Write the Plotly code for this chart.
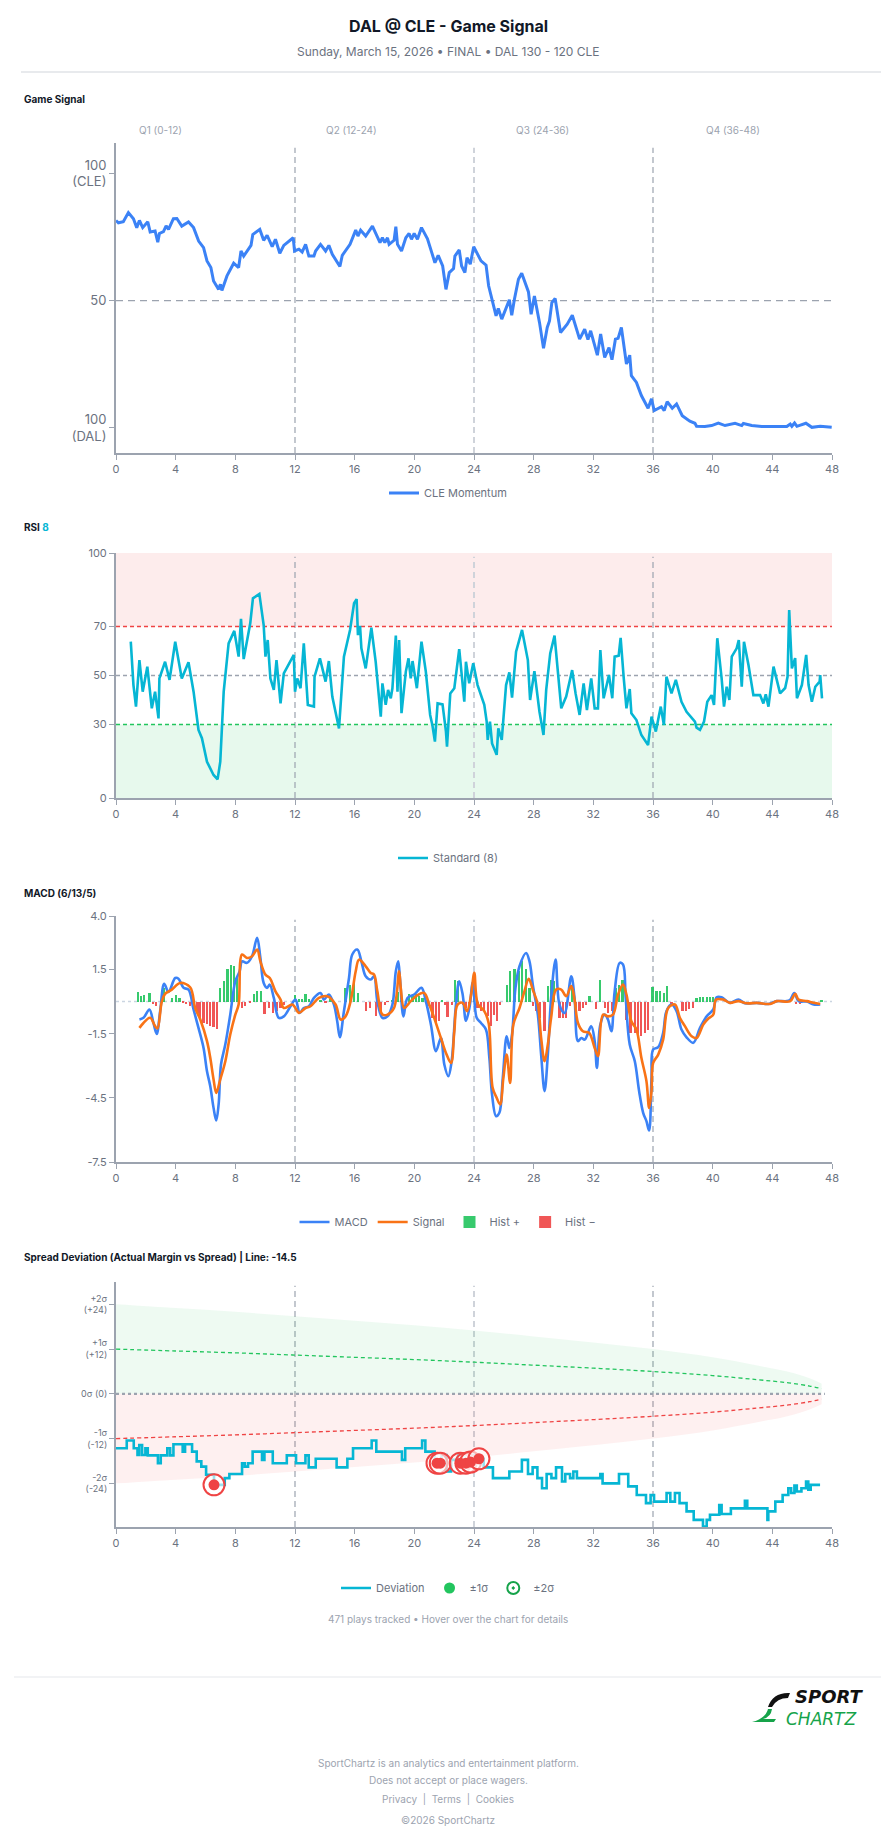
import plotly.graph_objects as go

W, H = 896, 1845

# ---------------- DATA ----------------
quarters = ["Q1 (0-12)", "Q2 (12-24)", "Q3 (24-36)", "Q4 (36-48)"]
x_ticks = [0, 4, 8, 12, 16, 20, 24, 28, 32, 36, 40, 44, 48]
quarter_lines = [12, 24, 36]

gs_time = [0, 0.16, 0.49, 0.83, 1.17, 1.39, 1.57, 1.79, 2.13, 2.29, 2.62, 2.8, 2.91, 3.18, 3.36, 3.52, 3.85, 4.08,
           4.41, 4.86, 5.2, 5.54, 5.87, 6.1, 6.36, 6.54, 6.88, 7.0, 7.1, 7.44, 7.89, 8.22, 8.38, 8.56, 9.05, 9.17,
           9.64, 9.9, 10.13, 10.47, 10.69, 10.98, 11.25, 11.88, 11.97, 12.26, 12.48, 12.71, 12.93, 13.27, 13.38,
           13.71, 14.05, 14.27, 14.5, 15.01, 15.17, 15.69, 16.07, 16.22, 16.4, 16.74, 17.19, 17.7, 17.86, 18.02,
           18.2, 18.31, 18.64, 18.76, 18.87, 19.14, 19.43, 19.65, 19.81, 19.99, 20.21, 20.48, 20.88, 21.11, 21.38,
           21.6, 21.9, 22.12, 22.34, 22.63, 22.72, 23.01, 23.17, 23.39, 23.53, 23.75, 23.98, 24.47, 24.81, 24.98,
           25.25, 25.48, 25.63, 25.86, 26.37, 26.53, 26.71, 26.98, 27.2, 27.65, 27.83, 28.05, 28.39, 28.66, 28.91,
           29.06, 29.22, 29.44, 29.8, 30.25, 30.59, 31.08, 31.42, 31.64, 31.82, 32.27, 32.49, 32.76, 33.05, 33.25,
           33.48, 33.66, 33.88, 34.22, 34.44, 34.55, 34.89, 35.22, 35.67, 35.9, 36.08, 36.57, 36.75, 36.95, 37.29,
           37.58, 37.96, 38.47, 38.81, 38.92, 39.48, 39.93, 40.38, 40.83, 41.5, 41.95, 42.06, 42.62, 43.29, 44.19,
           44.97, 45.2, 45.31, 45.49, 45.65, 46.25, 46.65, 47.21, 47.98]
gs_value = [81.5, 80.6, 81.0, 84.6, 82.2, 78.7, 81.5, 78.7, 81.0, 77.0, 77.4, 73.0, 76.4, 77.1, 79.4, 78.0, 82.2, 82.3,
            79.3, 80.9, 78.7, 73.4, 70.8, 65.6, 63.0, 57.7, 54.4, 56.4, 54.0, 59.7, 64.7, 63.0, 69.5, 67.5, 71.7, 76.0,
            78.0, 73.7, 75.7, 71.2, 74.1, 68.6, 71.7, 74.7, 69.5, 70.2, 69.1, 72.1, 67.5, 67.5, 69.5,
            72.1, 69.5, 71.7, 68.2, 63.4, 67.8, 72.1, 77.7, 75.4, 77.7, 75.4, 79.3, 72.8, 74.7, 72.8,
            74.7, 72.1, 73.7, 79.1, 72.1, 69.5, 74.7, 76.4, 74.1, 76.4, 74.1, 78.7, 74.3, 70.2, 64.9,
            67.8, 63.6, 54.4, 61.0, 62.6, 67.5, 69.9, 63.6, 61.0, 66.9, 64.3, 71.2, 65.6, 63.9, 55.8,
            49.2, 44.0, 46.9, 42.7, 50.3, 44.2, 50.5, 58.4, 60.7, 53.4, 44.6, 51.8, 41.4, 31.2, 39.4,
            42.0, 49.2, 50.8, 37.4, 40.7, 44.2, 34.8, 38.7, 34.6, 38.1, 28.5, 36.8, 27.6, 31.5, 26.7,
            34.8, 35.1, 39.4, 25.0, 28.5, 20.4, 17.8, 12.6, 7.6, 11.3, 6.7, 8.2, 6.7, 10.2, 7.6,
            9.3, 4.7, 2.5, 1.7, 0.5, 0.4, 0.8, 1.8, 0.8, 1.7, 0.8, 1.6, 0.8, 0.4, 0.4,
            0.4, 1.4, 0.5, 1.8, 0.5, 1.7, 0.1, 0.5, 0.1]

rsi_time = [0.99, 1.17, 1.34, 1.57, 1.79, 2.1, 2.4, 2.62, 2.85, 2.91, 3.29, 3.59, 3.97, 4.41, 4.86, 5.2, 5.53, 5.76,
            6.1, 6.54, 6.81, 6.99, 7.22, 7.55, 7.93, 8.22, 8.38, 8.56, 9.0, 9.18, 9.61, 9.9, 10.02, 10.17, 10.35,
            10.58, 10.76, 11.03, 11.25, 11.92, 12.0, 12.15, 12.37, 12.59, 12.86, 13.27, 13.31, 13.67, 14.05, 14.27,
            14.5, 14.95, 15.28, 15.69, 15.96, 16.13, 16.22, 16.36, 16.45, 16.74, 17.12, 17.41, 17.75, 17.86, 18.08,
            18.24, 18.42, 18.53, 18.76, 18.87, 18.98, 19.14, 19.43, 19.61, 19.76, 19.88, 20.17, 20.48, 20.77, 21.06,
            21.22, 21.38, 21.56, 21.89, 22.12, 22.19, 22.41, 22.68, 23.01, 23.17, 23.35, 23.46, 23.68, 23.95, 24.24,
            24.69, 24.85, 24.92, 25.07, 25.21, 25.52, 25.63, 25.86, 26.15, 26.37, 26.55, 26.82, 27.22, 27.61, 27.76,
            28.05, 28.39, 28.66, 28.84, 29.11, 29.4, 29.62, 29.85, 30.18, 30.58, 30.81, 31.08, 31.35, 31.57, 31.86,
            32.09, 32.31, 32.47, 32.69, 33.05, 33.27, 33.43, 33.7, 33.83, 34.04, 34.22, 34.44, 34.55, 34.89, 35.22,
            35.67, 35.9, 36.19, 36.52, 36.73, 36.9, 37.24, 37.53, 37.91, 38.25, 38.81, 38.92, 39.15, 39.42, 39.64,
            39.93, 40.09, 40.31, 40.6, 40.76, 40.94, 41.12, 41.28, 41.61, 41.75, 41.95, 42.1, 42.4, 42.73, 43.18,
            43.4, 43.56, 43.74, 44.08, 44.52, 44.86, 45.02, 45.13, 45.31, 45.53, 45.65, 45.98, 46.27, 46.43, 46.65,
            46.88, 47.17, 47.21, 47.33]
rsi_value = [63.8, 46.1, 37.3, 56.3, 43.4, 53.6, 36.6, 43.4, 32.5, 48.8, 55.6, 48.2, 63.8, 48.8, 55.4, 43.4, 27.8, 24.4,
             14.8, 9.4, 7.6, 14.8, 43.4, 63.1, 68.2, 57.7, 73.1, 56.7, 71.3, 81.5, 83.3, 70.6, 57.7, 64.5, 48.8,
             44.1, 56.3, 38.6, 50.9, 58.4, 43.4, 48.8, 44.8, 63.1, 38.0, 37.3, 49.5, 57.0, 47.5, 55.9,
             41.4, 28.4, 57.7, 68.6, 79.5, 81.2, 66.5, 70.3, 61.1, 52.9, 69.5, 55.6, 33.2, 46.8, 38.0,
             44.1, 40.7, 44.8, 66.3, 43.4, 64.5, 34.6, 51.6, 57.0, 48.8, 55.9, 44.8, 63.8, 51.6, 33.9,
             29.4, 23.0, 38.6, 38.2, 27.1, 21.0, 42.7, 44.8, 60.8, 49.5, 39.3, 55.6, 46.8, 55.0, 46.1,
             38.0, 31.2, 23.7, 31.2, 22.3, 17.6, 28.4, 23.7, 46.1, 51.3, 41.0, 59.7, 68.6, 56.3, 40.0,
             51.8, 35.2, 25.7, 44.1, 59.0, 66.3, 52.9, 36.6, 41.4, 52.2, 42.7, 33.9, 46.8, 35.9, 48.8,
             36.6, 36.6, 60.4, 40.7, 50.2, 40.7, 57.7, 58.1, 65.4, 48.8, 36.6, 44.5, 34.6, 31.8, 25.7,
             21.6, 33.2, 27.1, 37.3, 29.8, 49.5, 42.7, 48.2, 39.3, 35.2, 31.2, 28.7, 27.8, 31.2, 39.3,
             42.0, 38.0, 65.2, 48.8, 37.3, 45.4, 40.0, 57.7, 61.1, 64.5, 45.4, 63.8, 54.3, 42.0, 42.0,
             38.6, 42.3, 37.3, 53.6, 42.7, 44.9, 49.5, 76.7, 52.9, 57.1, 40.7, 46.1, 58.4, 46.1, 39.3,
             45.4, 47.5, 50.2, 40.7]

macd_time = [1.57, 1.84, 2.24, 2.51, 2.73, 2.96, 3.23, 3.52, 3.97, 4.19, 4.53, 4.86, 5.2, 5.53, 5.87, 6.1, 6.32, 6.54,
             6.72, 6.88, 7.04, 7.33, 7.66, 8.0, 8.29, 8.45, 8.78, 9.12, 9.46, 9.68, 9.9, 10.13, 10.31, 10.58, 10.91,
             11.25, 11.7, 12.03, 12.32, 12.59, 12.93, 13.27, 13.71, 13.94, 14.27, 14.61, 14.83, 15.01, 15.28, 15.62,
             15.84, 16.18, 16.45, 16.74, 17.08, 17.3, 17.52, 17.86, 18.2, 18.53, 18.76, 18.92, 19.05, 19.27, 19.54,
             19.99, 20.48, 20.77, 21.11, 21.45, 21.78, 22.01, 22.28, 22.5, 22.79, 23.01, 23.24, 23.46, 23.69, 23.92,
             24.18, 24.47, 24.8, 25.03, 25.21, 25.48, 25.7, 25.93, 26.19, 26.37, 26.55, 26.78, 27.05, 27.49, 27.72,
             27.94, 28.28, 28.5, 28.73, 28.95, 29.17, 29.47, 29.73, 30.07, 30.52, 30.74, 30.97, 31.19, 31.42, 31.86,
             32.09, 32.24, 32.47, 32.76, 32.98, 33.21, 33.43, 33.77, 33.99, 34.17, 34.44, 34.78, 35.07, 35.34, 35.56,
             35.74, 35.9, 36.01, 36.35, 36.68, 36.9, 37.24, 37.58, 37.91, 38.25, 38.7, 39.15, 39.6, 40.04, 40.27,
             40.6, 41.16, 41.72, 42.17, 42.96, 43.74, 44.3, 44.97, 45.2, 45.47, 45.76, 46.32, 46.77, 47.21]
macd_value = [-0.84, -0.76, -0.37, -1.0, -1.51, -0.45, 0.83, 0.45, 1.1, 1.07, 0.64, 0.56, -0.37, -1.23, -2.17, -3.26,
              -3.96, -4.97, -5.56, -4.81, -2.94, -2.0, -0.61, 0.95, 1.42, 1.88, 1.81, 2.12, 2.98, 2.04, 0.87, 0.64,
              0.79, 0.17, -0.76, -0.69, -0.22, 0.09, -0.53, -0.3, -0.22, 0.17, 0.4, 0.09, 0.33, -0.14, -0.92, -1.67,
              -0.45, 1.1, 2.2, 2.43, 1.88, 1.18, 1.03, 1.18, 0.02, -0.76, -0.69, -0.14, 1.42, 1.88, 0.95, -0.69, 0.17,
              0.33, 0.64, 0.02, -1.07, -2.32, -1.7, -2.94, -3.49, -2.79, -0.14, 0.95, 0.33, -0.9, -0.3, 0.9,
              -0.76, -1.0, -1.31, -2.63, -4.35, -5.36, -5.2, -3.57, -1.62, -2.17, -1.54, 0.64, 1.65, 2.27, 1.88,
              0.79, -0.61, -2.48, -4.19, -2.48, 0.17, 1.96, -0.14, -0.53, 1.18, 0.17, -1.85, -1.7, -1.78, -1.15,
              -1.85, -3.1, -1.07, -0.61, -0.84, -1.39, 0.48, 1.81, 1.73, 0.17, -2.01, -2.79, -4.19, -5.2, -5.59,
              -6.03, -3.57, -2.24, -2.13, -1.46, -0.45, -0.14, -0.45, -1.31, -1.67, -1.93, -1.23, -0.69, -0.37, 0.2,
              0.2, -0.06, 0.09, -0.08, -0.06, -0.11, 0.02, 0.02, 0.09, 0.4, 0.02, 0.0, -0.14, -0.14]

signal_time = [1.57, 1.84, 2.29, 2.62, 2.78, 3.07, 3.29, 3.74, 4.3, 4.97, 5.31, 5.65, 6.1, 6.32, 6.54, 6.72, 6.99, 7.33,
               7.66, 8.0, 8.22, 8.45, 8.78, 9.12, 9.46, 9.68, 10.02, 10.31, 10.69, 11.03, 11.25, 11.81, 12.03, 12.26,
               12.71, 13.04, 13.6, 14.16, 14.72, 15.06, 15.39, 15.73, 16.07, 16.29, 16.74, 17.08, 17.3, 17.52, 17.86,
               18.2, 18.64, 18.98, 19.09, 19.32, 19.76, 20.21, 20.66, 21.0, 21.33, 21.78, 22.12, 22.46, 22.68, 22.9,
               23.24, 23.53, 23.8, 24.02, 24.25, 24.69, 24.98, 25.25, 25.52, 25.75, 25.97, 26.19, 26.42, 26.64, 27.05,
               27.38, 27.67, 27.94, 28.28, 28.5, 28.73, 28.95, 29.17, 29.51, 29.85, 30.18, 30.52, 30.74, 30.97, 31.3,
               31.71, 32.09, 32.31, 32.65, 32.98, 33.32, 33.66, 33.99, 34.22, 34.55, 34.89, 35.22, 35.56, 35.74, 35.9,
               36.01, 36.35, 36.68, 37.02, 37.47, 37.8, 38.14, 38.59, 38.92, 39.37, 39.71, 40.04, 40.22, 40.72, 41.16,
               41.72, 42.28, 42.96, 43.85, 44.3, 45.2, 45.53, 45.76, 46.32, 46.77, 47.21]
signal_value = [-1.23, -1.0, -0.76, -1.15, -1.26, 0.0, 0.36, 0.56, 0.87, 0.67, -0.3, -0.84, -1.85, -2.63, -3.64, -4.27,
                -3.64, -2.79, -1.54, -0.61, -0.14, 2.2, 2.04, 2.12, 2.43, 1.88, 1.26, 1.1, 0.48, 0.09, -0.3, -0.14,
                -0.3, -0.53, -0.3, -0.22, 0.17, 0.25, -0.14, -0.84, -0.69, 0.02, 1.42, 1.96, 1.65, 1.34, 1.26, 0.48,
                -0.61, -0.61, -0.3, 1.42, 0.64, -0.3, 0.02, 0.3, 0.4, -0.14, -0.76, -1.7, -2.4, -2.87, -1.39, -0.14,
                -0.06, -0.45, 0.3, 1.34, -0.1, -0.45, -1.0, -4.03, -4.5, -4.81, -3.57, -2.48, -3.8, -1.07, -0.3,
                0.48, 1.07, 0.56, -0.14, -1.7, -2.79, -2.01, -0.76, 0.56, 0.56, 0.25, 0.72, 0.09, -1.0, -1.39,
                -1.46, -2.17, -2.55, -0.61, -0.69, -0.61, 0.33, 0.79, 0.33, -0.92, -1.31, -2.63, -3.72, -4.97, -4.19,
                -2.87, -2.48, -1.78, -0.3, -0.14, -0.76, -1.15, -1.62, -1.7, -1.07, -0.79, -0.61, 0.09, 0.09, -0.06,
                0.02, -0.08, -0.06, -0.11, 0.02, 0.02, 0.36, 0.09, 0.02, -0.06, -0.11]

hist_time = [1.46, 1.68, 1.9, 2.24, 2.46, 2.69, 3.18, 3.74, 4.01, 4.26, 4.48, 4.7, 4.97, 5.2, 5.47, 5.65, 5.87, 6.1,
             6.32, 6.54, 6.77, 6.99, 7.22, 7.48, 7.71, 7.93, 8.11, 8.45, 8.67, 8.96, 9.23, 9.46, 9.73, 9.95, 10.24,
             10.53, 10.8, 11.03, 11.25, 11.99, 12.26, 12.48, 12.71, 12.93, 13.15, 13.71, 14.05, 14.38, 14.6, 15.39,
             15.69, 15.96, 16.22, 16.74, 17.03, 17.41, 17.75, 18.02, 18.2, 18.53, 18.87, 19.14, 19.65, 19.88, 20.1,
             20.32, 20.55, 20.89, 21.22, 21.45, 21.67, 21.85, 22.03, 22.23, 22.5, 22.72, 22.95, 23.24, 23.46, 23.69,
             23.98, 24.24, 24.47, 24.69, 24.92, 25.14, 25.35, 25.52, 25.75, 26.19, 26.42, 26.71, 27.0, 27.22, 27.49,
             27.72, 27.94, 28.17, 28.43, 28.73, 28.95, 29.17, 29.33, 29.73, 29.96, 30.18, 30.41, 30.59, 30.85, 31.08,
             31.3, 31.53, 31.75, 32.2, 32.47, 32.76, 32.98, 33.27, 33.5, 33.72, 33.95, 34.22, 34.49, 34.78, 35.0,
             35.22, 35.45, 35.67, 35.96, 36.23, 36.46, 36.73, 36.95, 37.24, 37.98, 38.21, 38.43, 38.7, 38.92, 39.15,
             39.37, 39.6, 39.82, 40.04, 45.6, 45.85, 47.3]
hist_value = [0.45, 0.25, 0.3, 0.4, -0.11, -0.22, 0.64, 0.17, 0.33, 0.17, -0.06, -0.1, -0.22, -0.14, -0.53, -0.76, -1.0,
              -1.07, -1.15, -1.2, -1.26, 0.64, 0.95, 1.5, 1.73, 1.65, 1.18, -0.3, -0.22, -0.06, 0.36, 0.51, 0.51, -0.58,
              -0.3, -0.53, -0.42, -0.3, -0.14, 0.3, 0.1, 0.1, 0.36, 0.1, 0.02, 0.09, -0.06, 0.1, -0.14, 0.64,
              0.79, 1.03, 0.4, -0.45, -0.3, -0.69, -0.48, -0.14, -0.02, 0.09, 0.45, 0.09, 0.36, 0.33, 0.36,
              0.25, 0.17, -0.22, -0.76, -1.0, -0.92, 0.09, -0.14, -0.73, -0.14, 1.03, 0.95, -0.14, -0.3, -0.45,
              0.64, -0.3, -0.45, -0.45, -0.69, -1.15, -0.61, -0.92, -0.14, 0.79, 1.42, 1.5, 1.45, 1.88, 1.5,
              0.64, -0.22, -0.45, -0.76, -1.39, 0.72, 1.03, 0.95, -0.76, -0.76, -0.76, -0.22, 0.79, -0.61, -0.45,
              -0.3, -0.14, 0.25, -0.37, 1.03, -0.3, -0.53, -0.45, 0.64, 0.79, 1.03, -0.84, -1.46, -1.46, -1.7,
              -1.62, -1.46, -1.31, 0.67, 0.48, 0.51, 0.4, 0.72, -0.11, -0.45, -0.45, -0.37, -0.3, 0.17, 0.2,
              0.2, 0.2, 0.2, 0.2, -0.1, -0.1, 0.05]

dev_time = [0, 0.72, 1.19, 1.44, 1.56, 1.75, 1.97, 2.13, 2.81, 3.0, 3.44, 3.63, 3.85, 4.47, 4.63, 5.1, 5.41, 5.72,
            6.04, 6.57, 7.29, 7.6, 8.45, 8.63, 8.85, 9.16, 9.79, 9.95, 10.51, 11.45, 12.07, 12.7, 12.92, 13.39,
            14.79, 15.51, 15.89, 17.14, 17.45, 19.17, 19.39, 20.52, 20.74, 21.36, 21.83, 22.15, 22.46, 22.93, 23.4,
            23.71, 24.33, 24.65, 25.27, 26.37, 27.21, 27.62, 27.93, 28.25, 28.56, 28.87, 29.19, 29.5, 29.9, 30.12,
            30.44, 30.66, 30.9, 32.47, 32.62, 33.72, 34.34, 34.91, 35.53, 35.84, 36.07, 36.91, 37.16, 37.47, 37.78,
            38.25, 38.73, 39.35, 39.6, 39.82, 40.44, 40.6, 41.22, 42.16, 42.32, 43.67, 43.73, 44.2, 44.69, 45.07,
            45.26, 45.48, 45.64, 45.95, 46.26, 46.41, 46.57, 47.2]
dev_value = [-14.6, -12.5, -14.6, -16.4, -13.7, -16.4, -14.6, -16.5, -18.6, -16.5, -14.6, -16.5, -13.5, -15.5, -13.5,
             -15.5, -18.1, -19.5, -21.7, -24.4, -22.6, -21.5, -18.6, -19.5, -18.6, -15.5, -17.7, -15.5, -18.6, -16.5,
             -18.6, -16.5, -19.7, -17.4, -19.7, -17.4, -14.6, -12.5, -15.5, -17.7, -14.6, -12.5, -15.5, -18.6, -16.4,
             -20.8, -17.7, -16.4, -18.6, -16.4, -17.4, -19.7, -22.6, -20.8, -17.7, -21.5, -19.7, -22.6, -25.3, -21.5,
             -22.6, -19.7, -23.5, -21.5, -22.6, -20.8, -22.6, -21.5, -24.0, -21.5, -24.8, -27.1, -29.3, -27.1, -28.9,
             -26.6, -28.9, -26.6, -29.3, -31.5, -33.8, -35.6, -33.8, -32.4, -29.8, -32.2, -30.7, -28.7, -30.7, -33.8,
             -31.5, -28.9, -27.1, -25.3, -26.6, -24.6, -26.2, -25.3, -23.5, -25.7, -24.4, -24.4]

event_time = [6.57, 21.52, 21.74, 23.08, 23.46, 23.77, 24.33]
event_value = [-24.4, -18.6, -18.6, -18.6, -18.6, -18.3, -17.4]

sigma_time = [0, 4, 8, 12, 16, 20, 24, 28, 32, 36, 40, 43, 45, 46.5, 47.3]
sigma_value = [12.0, 11.5, 11.0, 10.4, 9.8, 9.2, 8.5, 7.7, 6.9, 6.0, 4.9, 3.8, 3.0, 2.1, 1.4]

# ---------------- HELPERS ----------------
def X(px):
    return px / W

def Y(py):
    return 1 - py / H

FONT = "Inter, 'Noto Sans', sans-serif"
GRAY = "#6b7280"
AXIS = "#9ca3af"

PLOT_L, PLOT_R = 116, 832
boxes = {
    1: (143, 453),
    2: (553, 798),
    3: (916, 1162),
    4: (1282, 1527),
}

fig = go.Figure()

# ---- Game Signal ----
fig.add_trace(go.Scatter(x=gs_time, y=gs_value, mode="lines", name="CLE Momentum",
                         line=dict(color="#3b82f6", width=3), xaxis="x", yaxis="y", legend="legend"))

# ---- RSI ----
fig.add_trace(go.Scatter(x=rsi_time, y=rsi_value, mode="lines", name="Standard (8)",
                         line=dict(color="#06b6d4", width=2.6), xaxis="x2", yaxis="y2", legend="legend2"))

# ---- MACD ----
pos_t = [t for t, v in zip(hist_time, hist_value) if v >= 0]
pos_v = [v for v in hist_value if v >= 0]
neg_t = [t for t, v in zip(hist_time, hist_value) if v < 0]
neg_v = [v for v in hist_value if v < 0]
fig.add_trace(go.Scatter(x=macd_time, y=macd_value, mode="lines", name="MACD", line_shape="spline",
                         line=dict(color="#3b82f6", width=2.6), xaxis="x3", yaxis="y3", legend="legend3"))
fig.add_trace(go.Scatter(x=signal_time, y=signal_value, mode="lines", name="Signal", line_shape="spline",
                         line=dict(color="#f97316", width=2.6), xaxis="x3", yaxis="y3", legend="legend3"))
fig.add_trace(go.Bar(x=pos_t, y=pos_v, name="Hist +", marker=dict(color="#22c55e", line_width=0),
                     width=0.15, opacity=0.9, xaxis="x3", yaxis="y3", legend="legend3"))
fig.add_trace(go.Bar(x=neg_t, y=neg_v, name="Hist −", marker=dict(color="#ef4444", line_width=0),
                     width=0.15, opacity=0.9, xaxis="x3", yaxis="y3", legend="legend3"))

# ---- Spread deviation ----
two_sigma = [2 * s for s in sigma_value]
neg_two_sigma = [-2 * s for s in sigma_value]
neg_sigma = [-s for s in sigma_value]
fig.add_trace(go.Scatter(x=sigma_time, y=two_sigma, mode="lines", line=dict(width=0, shape="spline"),
                         fill="tozeroy", fillcolor="rgba(34,197,94,0.08)", showlegend=False, hoverinfo="skip",
                         xaxis="x4", yaxis="y4"))
fig.add_trace(go.Scatter(x=sigma_time, y=neg_two_sigma, mode="lines", line=dict(width=0, shape="spline"),
                         fill="tozeroy", fillcolor="rgba(239,68,68,0.08)", showlegend=False, hoverinfo="skip",
                         xaxis="x4", yaxis="y4"))
fig.add_trace(go.Scatter(x=sigma_time, y=sigma_value, mode="lines",
                         line=dict(color="#22c55e", width=1.3, dash="4px,3px", shape="spline"),
                         showlegend=False, hoverinfo="skip", xaxis="x4", yaxis="y4"))
fig.add_trace(go.Scatter(x=sigma_time, y=neg_sigma, mode="lines",
                         line=dict(color="#ef4444", width=1.3, dash="4px,3px", shape="spline"),
                         showlegend=False, hoverinfo="skip", xaxis="x4", yaxis="y4"))
fig.add_trace(go.Scatter(x=dev_time, y=dev_value, mode="lines", name="Deviation",
                         line=dict(color="#06b6d4", width=2.6, shape="hv"), xaxis="x4", yaxis="y4",
                         legend="legend4"))
fig.add_trace(go.Scatter(x=event_time, y=event_value, mode="markers", showlegend=False,
                         marker=dict(symbol="circle", size=21, color="rgba(255,255,255,0.6)",
                                     line=dict(color="#ef4444", width=2)),
                         xaxis="x4", yaxis="y4"))
fig.add_trace(go.Scatter(x=event_time, y=event_value, mode="markers", showlegend=False,
                         marker=dict(symbol="circle", size=11, color="#ef4444"),
                         xaxis="x4", yaxis="y4"))
fig.add_trace(go.Scatter(x=[None], y=[None], mode="markers", name="±1σ",
                         marker=dict(symbol="circle", size=11, color="#22c55e"),
                         xaxis="x4", yaxis="y4", legend="legend4"))
fig.add_trace(go.Scatter(x=[None], y=[None], mode="markers", name="±2σ",
                         marker=dict(symbol="circle-dot", size=12, color="white",
                                     line=dict(color="#16a34a", width=2)),
                         xaxis="x4", yaxis="y4", legend="legend4"))

# ---------------- AXES ----------------
def xaxis_cfg(anchor):
    return dict(domain=[X(PLOT_L), X(PLOT_R)], range=[0, 48], anchor=anchor, tickmode="array",
                tickvals=x_ticks, ticks="outside", ticklen=5, tickcolor=AXIS, showline=True,
                linecolor=AXIS, linewidth=2, showgrid=False, zeroline=False, automargin=False,
                tickfont=dict(family=FONT, size=11, color=GRAY), fixedrange=True)

def ydom(i):
    top, bot = boxes[i]
    return [Y(bot), Y(top)]

def yaxis_cfg(anchor, i, rng, vals, texts, size=11):
    return dict(domain=ydom(i), range=rng, anchor=anchor, tickmode="array", tickvals=vals, ticktext=texts,
                ticks="outside", ticklen=5, tickcolor=AXIS, showline=True, linecolor=AXIS, linewidth=2,
                showgrid=False, zeroline=False, automargin=False,
                tickfont=dict(family=FONT, size=size, color=GRAY), fixedrange=True)

layout = dict(
    width=W, height=H, autosize=False,
    margin=dict(l=0, r=0, t=0, b=0, pad=0, autoexpand=False),
    paper_bgcolor="white", plot_bgcolor="rgba(0,0,0,0)",
    font=dict(family=FONT, color=GRAY),
    bargap=0, barmode="overlay", hovermode="closest",
    xaxis=xaxis_cfg("y"),
    yaxis=yaxis_cfg("x", 1, [-10, 112], [100, 50, 0], ["100<br>(CLE)", "50", "100<br>(DAL)"], size=13),
    xaxis2=xaxis_cfg("y2"),
    yaxis2=yaxis_cfg("x2", 2, [0, 100], [0, 30, 50, 70, 100], ["0", "30", "50", "70", "100"]),
    xaxis3=xaxis_cfg("y3"),
    yaxis3=yaxis_cfg("x3", 3, [-7.5, 4.0], [-7.5, -4.5, -1.5, 1.5, 4.0], ["-7.5", "-4.5", "-1.5", "1.5", "4.0"]),
    xaxis4=xaxis_cfg("y4"),
    yaxis4=yaxis_cfg("x4", 4, [-35.7, 30], [24, 12, 0, -12, -24],
                     ["+2σ<br>(+24)", "+1σ<br>(+12)", "0σ (0)", "-1σ<br>(-12)", "-2σ<br>(-24)"], size=9),
)

def legend_cfg(py):
    return dict(x=0.5, y=Y(py), xanchor="center", yanchor="middle", orientation="h",
                font=dict(family=FONT, size=11, color=GRAY), bgcolor="rgba(0,0,0,0)",
                itemwidth=30, traceorder="normal")

layout["legend"] = legend_cfg(493)
layout["legend2"] = legend_cfg(858)
layout["legend3"] = legend_cfg(1222)
layout["legend4"] = legend_cfg(1588)
fig.update_layout(**layout)

# ---------------- SHAPES ----------------
shapes = []
shapes.append(dict(type="line", xref="paper", yref="paper", x0=X(21), x1=X(881), y0=Y(72), y1=Y(72),
                   line=dict(color="#d1d5db", width=1)))
shapes.append(dict(type="line", xref="paper", yref="paper", x0=X(14), x1=X(881), y0=Y(1677), y1=Y(1677),
                   line=dict(color="#e5e7eb", width=1)))

shapes.append(dict(type="rect", xref="x2 domain", yref="y2", x0=0, x1=1, y0=70, y1=100,
                   fillcolor="rgba(239,68,68,0.10)", line_width=0, layer="below"))
shapes.append(dict(type="rect", xref="x2 domain", yref="y2", x0=0, x1=1, y0=0, y1=30,
                   fillcolor="rgba(34,197,94,0.11)", line_width=0, layer="below"))

for ax in ["", "2", "3", "4"]:
    for q in quarter_lines:
        if q == 24:
            ln = dict(color="#cfd3da", width=2, dash="6px,4px")
        else:
            ln = dict(color="#9ca3af", width=1.2, dash="6px,4px")
        shapes.append(dict(type="line", xref="x" + ax, yref=("y" + ax) + " domain", x0=q, x1=q, y0=0, y1=0.985,
                           line=ln, layer="below"))

shapes.append(dict(type="line", xref="x domain", yref="y", x0=0, x1=1, y0=50, y1=50,
                   line=dict(color="#9ca3af", width=1.3, dash="7px,5px"), layer="below"))
shapes.append(dict(type="line", xref="x2 domain", yref="y2", x0=0, x1=1, y0=70, y1=70,
                   line=dict(color="#ef4444", width=1.4, dash="4px,3px"), layer="below"))
shapes.append(dict(type="line", xref="x2 domain", yref="y2", x0=0, x1=1, y0=50, y1=50,
                   line=dict(color="#9ca3af", width=1.4, dash="4px,3px"), layer="below"))
shapes.append(dict(type="line", xref="x2 domain", yref="y2", x0=0, x1=1, y0=30, y1=30,
                   line=dict(color="#22c55e", width=1.4, dash="4px,3px"), layer="below"))
shapes.append(dict(type="line", xref="x3 domain", yref="y3", x0=0, x1=1, y0=0, y1=0,
                   line=dict(color="#cbd5e1", width=1.5, dash="dot"), layer="below"))
shapes.append(dict(type="line", xref="x4 domain", yref="y4", x0=0, x1=0.99, y0=0, y1=0,
                   line=dict(color="#9ca3af", width=2.2, dash="dot"), layer="above"))

# logo swoosh (pixel coords -> paper)
def P(a, b):
    return f"{X(a):.5f},{Y(b):.5f}"

black_swoosh = ("M " + P(790, 1693) + " Q " + P(773, 1692) + " " + P(768, 1707) + " L " + P(772, 1707) +
                " Q " + P(777, 1698) + " " + P(788, 1698) + " Z")
green_swoosh = ("M " + P(768, 1709) + " L " + P(772, 1709) + " Q " + P(771, 1717) + " " + P(763, 1719) +
                " L " + P(776, 1719) + " L " + P(774, 1722) + " L " + P(752, 1722) + " Q " + P(766, 1718) +
                " " + P(768, 1709) + " Z")
shapes.append(dict(type="path", xref="paper", yref="paper", path=black_swoosh, fillcolor="#111111", line_width=0))
shapes.append(dict(type="path", xref="paper", yref="paper", path=green_swoosh, fillcolor="#16a34a", line_width=0))
fig.update_layout(shapes=shapes)

# ---------------- ANNOTATIONS ----------------
ann = []

def text(x, y, s, size=11, color=GRAY, xanchor="center", bold=False, yanchor="middle", family=FONT):
    ann.append(dict(xref="paper", yref="paper", x=X(x), y=Y(y), text=("<b>%s</b>" % s) if bold else s,
                    showarrow=False, xanchor=xanchor, yanchor=yanchor, borderpad=0,
                    font=dict(family=family, size=size, color=color)))

text(448, 26, "DAL @ CLE - Game Signal", size=16, color="#111827", bold=True)
text(448, 52, "Sunday, March 15, 2026 • FINAL • DAL 130 - 120 CLE", size=12, color=GRAY)
text(23, 99, "Game Signal", size=10, color="#111827", xanchor="left", bold=True)
for i, q in enumerate(quarters):
    text(160 + 191 * i, 130, q, size=10, color="#9ca3af")
ann.append(dict(xref="paper", yref="paper", x=X(23), y=Y(527), showarrow=False, xanchor="left",
                yanchor="middle", borderpad=0, text="<b>RSI <span style='color:#06b6d4'>8</span></b>",
                font=dict(family=FONT, size=10, color="#111827")))
text(23, 893, "MACD (6/13/5)", size=10, color="#111827", xanchor="left", bold=True)
text(23, 1257, "Spread Deviation (Actual Margin vs Spread) | Line: -14.5", size=10, color="#111827",
     xanchor="left", bold=True)
text(448, 1619, "471 plays tracked • Hover over the chart for details", size=10, color="#9ca3af")

# logo text
ann.append(dict(xref="paper", yref="paper", x=X(865), y=Y(1708), showarrow=False, xanchor="right",
                yanchor="bottom", borderpad=0, text="<b><i>SPORT</i></b>",
                font=dict(family="DejaVu Sans", size=18, color="#111111")))
ann.append(dict(xref="paper", yref="paper", x=X(857), y=Y(1708), showarrow=False, xanchor="right",
                yanchor="top", borderpad=0, text="<i>CHARTZ</i>",
                font=dict(family="DejaVu Sans", size=17, color="#16a34a")))

text(448, 1763, "SportChartz is an analytics and entertainment platform.", size=10, color="#9ca3af")
text(448, 1780, "Does not accept or place wagers.", size=10, color="#9ca3af")
text(448, 1799, "Privacy  |  Terms  |  Cookies", size=10, color="#9ca3af")
text(448, 1820, "©2026 SportChartz", size=10, color="#9ca3af")

fig.update_layout(annotations=ann)

fig.write_html("out.html", config={"displayModeBar": False})
